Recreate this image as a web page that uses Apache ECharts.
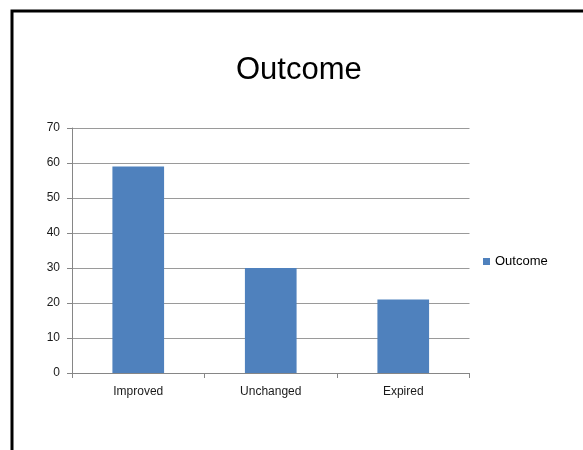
<!DOCTYPE html>
<html>
<head>
<meta charset="utf-8">
<script src="https://cdn.jsdelivr.net/npm/echarts@6/dist/echarts.min.js"></script>
<style>
html,body{margin:0;padding:0;background:#fff;}
#chart{width:583px;height:450px;}
</style>
</head>
<body>
<div id="chart"></div>
<script>
const categories = ["Improved", "Unchanged", "Expired"];
const outcomeValues = [59, 30, 21];
const yTicks = [0, 10, 20, 30, 40, 50, 60, 70];

const chart = echarts.init(document.getElementById('chart'), null, {renderer: 'canvas'});
const font = "Liberation Sans";
chart.setOption({
  animation: false,
  backgroundColor: '#ffffff',
  title: {
    text: 'Outcome',
    left: 236,
    top: 55,
    padding: 0,
    textStyle: {fontFamily: font, fontSize: 31, fontWeight: 'normal', color: '#000000'}
  },
  graphic: [{
    type: 'polyline',
    shape: {points: [[12, 452], [12, 11], [585, 11]]},
    style: {stroke: '#000000', lineWidth: 3, fill: null}
  }],
  legend: {
    show: true,
    left: 483,
    top: 255,
    padding: 0,
    itemWidth: 7,
    itemHeight: 7,
    icon: 'rect',
    itemGap: 4,
    textStyle: {fontFamily: font, fontSize: 13, color: '#000000', padding: [0,0,0,0]},
    data: ['Outcome']
  },
  grid: {left: 72, right: 113.5, top: 128, bottom: 77, containLabel: false},
  xAxis: {
    type: 'category',
    data: categories,
    axisLine: {show: true, lineStyle: {color: '#868686', width: 1}},
    axisTick: {show: true, length: 5, alignWithLabel: false, lineStyle: {color: '#868686'}},
    axisLabel: {fontFamily: font, fontSize: 12, color: '#1a1a1a', margin: 13}
  },
  yAxis: {
    type: 'value',
    min: yTicks[0],
    max: yTicks[yTicks.length - 1],
    interval: 10,
    axisLine: {show: true, lineStyle: {color: '#868686', width: 1}},
    axisTick: {show: true, length: 5, lineStyle: {color: '#868686'}},
    axisLabel: {fontFamily: font, fontSize: 12, color: '#1a1a1a', margin: 12},
    splitLine: {show: true, lineStyle: {color: '#9a9a9a', width: 1}}
  },
  series: [{
    name: 'Outcome',
    type: 'bar',
    data: outcomeValues,
    barWidth: '39%',
    itemStyle: {color: '#4f81bd'}
  }]
});
</script>
</body>
</html>
